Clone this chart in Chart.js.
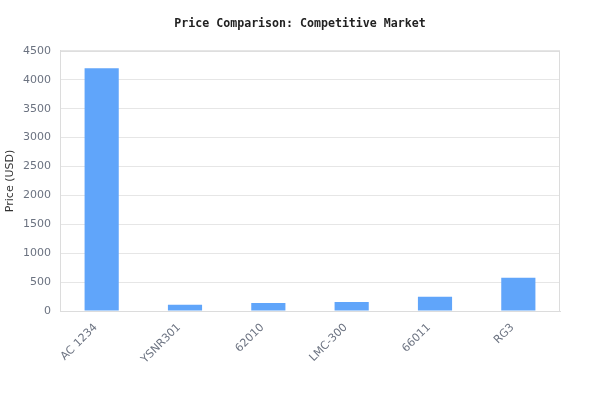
<!DOCTYPE html>
<html>
<head>
<meta charset="utf-8">
<script src="https://cdn.jsdelivr.net/npm/chart.js@4/dist/chart.umd.min.js"></script>
<style>
html,body{margin:0;padding:0;background:#fff;}
#wrap{width:600px;height:420px;}
</style>
</head>
<body>
<div id="wrap"><canvas id="c"></canvas></div>
<script>
const categories = ["AC 1234", "YSNR301", "62010", "LMC-300", "66011", "RG3"];
const prices = [4200, 110, 140, 155, 245, 575];
const titleText = "Price Comparison: Competitive Market";
const yAxisTitle = "Price (USD)";

const borderPlugin = {
  id: 'areaBorder',
  afterDraw(chart) {
    const {ctx, chartArea: a} = chart;
    ctx.save();
    ctx.strokeStyle = '#dcdcdc';
    ctx.lineWidth = 1;
    ctx.strokeRect(a.left + 0.5, a.top + 0.5, a.right - a.left - 1, a.bottom - a.top);
    ctx.restore();
  }
};

new Chart(document.getElementById('c'), {
  type: 'bar',
  data: {
    labels: categories,
    datasets: [{
      label: 'Price',
      data: prices,
      backgroundColor: '#60a5fa',
      borderWidth: 0,
      barPercentage: 0.5,
      categoryPercentage: 0.82
    }]
  },
  plugins: [borderPlugin],
  options: {
    responsive: true,
    maintainAspectRatio: false,
    animation: false,
    layout: { padding: { left: 0, right: 0, top: 4, bottom: 52 } },
    plugins: {
      legend: { display: false },
      tooltip: { enabled: false },
      title: {
        display: true,
        text: titleText,
        color: '#222',
        font: { family: 'DejaVu Sans Mono', size: 11.6, weight: 'bold' },
        padding: { top: 13, bottom: 20 }
      }
    },
    scales: {
      x: {
        grid: { display: false, drawTicks: false },
        border: { display: true, color: '#dcdcdc' },
        afterFit: (s) => { s.height = 57; },
        ticks: {
          color: '#6b7280',
          font: { family: 'DejaVu Sans', size: 11 },
          maxRotation: 45, minRotation: 45,
          padding: 10,
          labelOffset: -6
        }
      },
      y: {
        min: 0, max: 4500,
        grid: { color: '#e6e6e6', drawTicks: false },
        border: { display: true, color: '#dcdcdc' },
        afterFit: (s) => { s.width = 60; },
        ticks: {
          stepSize: 500,
          color: '#6b7280',
          font: { family: 'DejaVu Sans', size: 11 },
          padding: 9,
          callback: (v) => String(v)
        },
        title: {
          display: true,
          text: yAxisTitle,
          color: '#333',
          font: { family: 'DejaVu Sans', size: 11 },
          padding: { top: 4, bottom: 2 }
        }
      },
      yRightSpace: {
        position: 'right',
        display: true,
        grid: { display: false },
        border: { display: false },
        ticks: { display: false },
        afterFit: (s) => { s.width = 40; }
      }
    }
  }
});
</script>
</body>
</html>
